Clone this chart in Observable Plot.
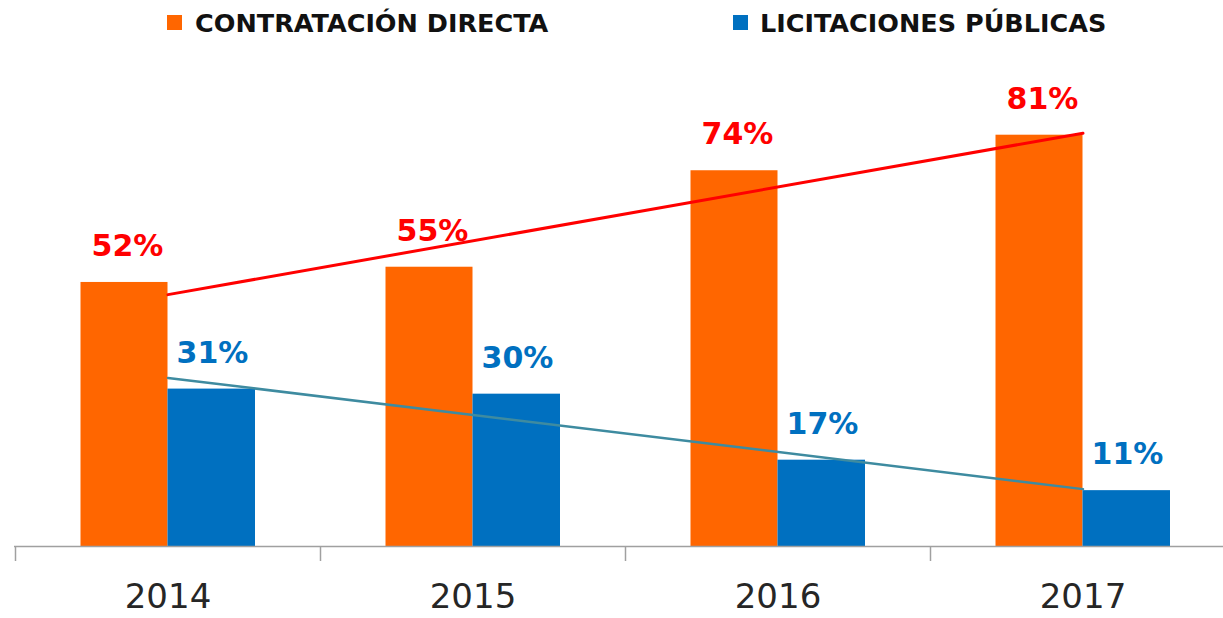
<!DOCTYPE html>
<html>
<head>
<meta charset="utf-8">
<script src="https://cdn.jsdelivr.net/npm/d3@7"></script>
<script src="https://cdn.jsdelivr.net/npm/@observablehq/plot@0.6"></script>
<style>
  html, body { margin: 0; padding: 0; background: #fff; }
  #legend { position: relative; width: 1223px; height: 46px; font-family: "DejaVu Sans", sans-serif; font-weight: bold; font-size: 25.5px; color: #111; }
  #legend .sw { position: absolute; top: 15px; width: 15px; height: 15px; }
  #legend .lb { position: absolute; top: 8px; line-height: 30px; white-space: nowrap; }
  svg { display: block; }
</style>
</head>
<body>
<div id="legend"></div>
<div id="chart"></div>
<script>
const years = [2014, 2015, 2016, 2017];
const seriesNames = ["CONTRATACIÓN DIRECTA", "LICITACIONES PÚBLICAS"];
const seriesColors = ["#FF6600", "#0070C0"];
const directa = [52, 55, 74, 81];
const licitaciones = [31, 30, 17, 11];

const data = years.map((year, i) => ({year, directa: directa[i], licitaciones: licitaciones[i]}));

// legend
const legend = document.getElementById("legend");
const legendPos = [[167, 195], [733, 760]];
seriesNames.forEach((name, i) => {
  const sw = document.createElement("div");
  sw.className = "sw";
  sw.style.left = legendPos[i][0] + "px";
  sw.style.background = seriesColors[i];
  legend.appendChild(sw);
  const lb = document.createElement("div");
  lb.className = "lb";
  lb.style.left = legendPos[i][1] + "px";
  lb.textContent = name;
  legend.appendChild(lb);
});

const boundaries = [years[0] - 0.5, ...years.map(y => y + 0.5)];

const chart = Plot.plot({
  width: 1223,
  height: 572,
  marginLeft: 14,
  marginRight: 0,
  marginTop: 43,
  marginBottom: 72,
  x: {domain: [years[0] - 0.5, years[years.length - 1] + 0.5], range: [15, 1235], label: null},
  y: {domain: [0, 90], axis: null},
  style: {fontFamily: "DejaVu Sans, sans-serif", overflow: "visible"},
  marks: [
    Plot.rectY(data, {x1: d => d.year - 0.5, x2: d => d.year + 0.5, y: "directa", fill: seriesColors[0], insetLeft: 65.5, insetRight: 152.5}),
    Plot.rectY(data, {x1: d => d.year - 0.5, x2: d => d.year + 0.5, y: "licitaciones", fill: seriesColors[1], insetLeft: 152.5, insetRight: 65}),
    Plot.ruleY([0], {stroke: "#a0a0a0", strokeWidth: 1.5}),
    Plot.axisX({ticks: boundaries, tickSize: 15, tickFormat: () => "", label: null, stroke: "#a0a0a0", strokeWidth: 1.5, strokeOpacity: 1}),
    Plot.text(years, {x: d => d, y: 0, text: d => String(d), dy: 51, fontSize: 34, fill: "#262626", lineAnchor: "middle"}),
    Plot.linearRegressionY(data, {x: "year", y: "directa", stroke: "#FF0000", strokeWidth: 3, ci: 0}),
    Plot.linearRegressionY(data, {x: "year", y: "licitaciones", stroke: "#3E8BA0", strokeWidth: 2.5, ci: 0}),
    Plot.text(data, {x: "year", y: "directa", text: d => d.directa + "%", dx: -40.5, dy: -36, fontSize: 30, fontWeight: "bold", fill: "#FF0000", lineAnchor: "middle"}),
    Plot.text(data, {x: "year", y: "licitaciones", text: d => d.licitaciones + "%", dx: 44.5, dy: -36, fontSize: 30, fontWeight: "bold", fill: "#0070C0", lineAnchor: "middle"})
  ]
});
document.getElementById("chart").appendChild(chart);
</script>
</body>
</html>
